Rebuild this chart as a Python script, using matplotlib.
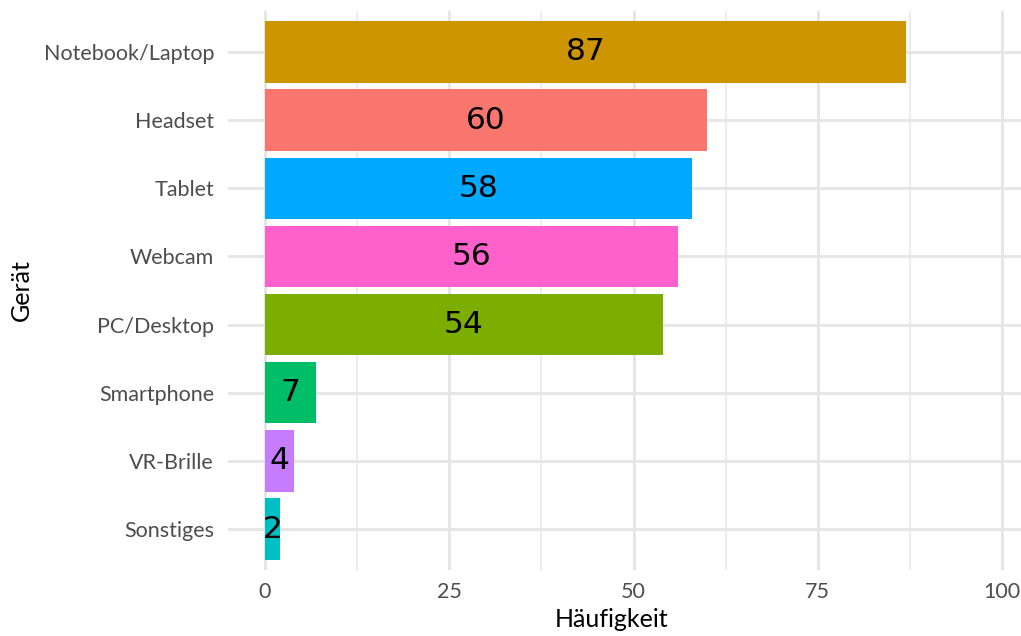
import numpy as np
import matplotlib.pyplot as plt
from matplotlib.ticker import MultipleLocator

# Daten
geraete = ["Notebook/Laptop", "Headset", "Tablet", "Webcam",
           "PC/Desktop", "Smartphone", "VR-Brille", "Sonstiges"]
haeufigkeit = [87, 60, 58, 56, 54, 7, 4, 2]
farben = ["#CD9600", "#F8766D", "#00A9FF", "#FF61CC",
          "#7CAE00", "#00BE67", "#C77CFF", "#00BFC4"]
x_ticks = [0, 25, 50, 75, 100]

fig = plt.figure(figsize=(10.21, 6.36), dpi=100)
ax = fig.add_axes([228 / 1021, 66 / 636, 811 / 1021, 559 / 636])

pos = np.arange(len(geraete))[::-1]
ax.barh(pos, haeufigkeit, height=0.9, color=farben, zorder=3)
for p, v in zip(pos, haeufigkeit):
    ax.text(v / 2, p, str(v), ha="center", va="center", fontsize=22.5,
            family="DejaVu Sans", color="black", zorder=4)

ax.set_xlim(-5, 105)
ax.set_ylim(-0.6, len(geraete) - 0.4)
ax.set_xticks(x_ticks)
ax.set_xticklabels([str(t) for t in x_ticks])
ax.xaxis.set_minor_locator(MultipleLocator(12.5))
ax.set_yticks(pos)
ax.set_yticklabels(geraete)

ax.grid(which="major", color="#E6E6E6", linewidth=2.2, zorder=0)
ax.grid(which="minor", axis="x", color="#EDEDED", linewidth=1.6, zorder=0)
ax.set_axisbelow(True)
for s in ax.spines.values():
    s.set_visible(False)

ax.tick_params(which="both", length=0)
ax.tick_params(axis="y", pad=10, labelsize=15.5, labelcolor="#4D4D4D")
ax.tick_params(axis="x", pad=9, labelsize=15.5, labelcolor="#4D4D4D")
for lab in ax.get_xticklabels() + ax.get_yticklabels():
    lab.set_family("Lato")

ax.set_xlabel("Häufigkeit", fontsize=18, family="Lato")
ax.set_ylabel("Gerät", fontsize=18, family="Lato")
ax.xaxis.set_label_coords((612 - 228) / 811, -0.068)
ax.yaxis.set_label_coords(-(228 - 33) / 811, 0.5)

fig.savefig("out.png", dpi=100)
